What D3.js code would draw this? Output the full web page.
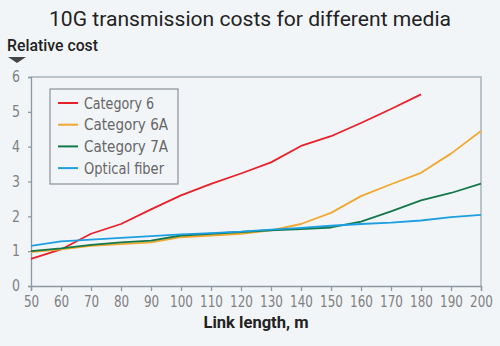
<!DOCTYPE html>
<html>
<head>
<meta charset="utf-8">
<script src="https://cdn.jsdelivr.net/npm/d3@7"></script>
<style>
  body { margin: 0; background: #f2f5f8; }
  svg { display: block; }
</style>
</head>
<body>
<div id="chart"></div>
<script>
const lengths = [50, 60, 70, 80, 90, 100, 110, 120, 130, 140, 150, 160, 170, 180, 190, 200]
const cat6 = [0.78, 1.05, 1.5, 1.78, 2.2, 2.6, 2.93, 3.23, 3.55, 4.02, 4.3, 4.68, 5.08, 5.5]
const cat6a = [0.97, 1.05, 1.15, 1.2, 1.25, 1.4, 1.45, 1.5, 1.6, 1.78, 2.1, 2.58, 2.92, 3.25, 3.8, 4.45]
const cat7a = [1.0, 1.08, 1.18, 1.25, 1.3, 1.45, 1.5, 1.55, 1.6, 1.63, 1.68, 1.85, 2.14, 2.46, 2.67, 2.94]
const fiber = [1.15, 1.28, 1.33, 1.38, 1.43, 1.48, 1.52, 1.56, 1.62, 1.67, 1.73, 1.78, 1.82, 1.88, 1.98, 2.04]
const seriesNames = ["Category 6", "Category 6A", "Category 7A", "Optical fiber"]
const seriesColors = ["#e8202a", "#f0a830", "#12784a", "#1c9fe0"]
const yTicks = [0, 1, 2, 3, 4, 5, 6]

const W = 500, H = 346
const plotLeft = 31, plotRight = 481, plotTop = 77, plotBottom = 286

const svg = d3.select("#chart").append("svg")
    .attr("width", W)
    .attr("height", H)

svg.append("rect").attr("width", W).attr("height", H).attr("fill", "#f2f5f8")

const x = d3.scaleLinear().domain([50, 200]).range([plotLeft, plotRight])
const y = d3.scaleLinear().domain([0, 6]).range([plotBottom, plotTop])

// title + y label
svg.append("text")
    .attr("x", 250).attr("y", 26)
    .attr("text-anchor", "middle")
    .attr("font-family", "Roboto, sans-serif")
    .attr("font-size", 21)
    .attr("fill", "#222")
    .attr("textLength", 402)
    .attr("lengthAdjust", "spacingAndGlyphs")
    .text("10G transmission costs for different media")

svg.append("text")
    .attr("x", 7).attr("y", 51)
    .attr("font-family", "Roboto, sans-serif")
    .attr("font-weight", 500)
    .attr("font-size", 16)
    .attr("fill", "#222")
    .attr("textLength", 91)
    .attr("lengthAdjust", "spacingAndGlyphs")
    .text("Relative cost")

svg.append("path")
    .attr("d", "M8,57 L26,57 L17,63 Z")
    .attr("fill", "#444")

// frame (top and right)
svg.append("path")
    .attr("d", `M${plotLeft},${plotTop} H${plotRight} V${plotBottom}`)
    .attr("fill", "none")
    .attr("stroke", "#a9b3bb")
    .attr("stroke-width", 1.5)

const tickFont = "'Liberation Sans Narrow', 'DejaVu Sans Condensed', sans-serif"

const yAxis = svg.append("g")
    .attr("transform", `translate(${plotLeft},0)`)
    .call(d3.axisLeft(y).tickValues(yTicks).tickFormat(d3.format("d")).tickSize(3).tickPadding(8))
yAxis.selectAll("text")
    .attr("font-family", tickFont)
    .attr("font-size", 15)
    .attr("fill", "#808080")
    .attr("textLength", 8)
    .attr("lengthAdjust", "spacingAndGlyphs")

const xAxis = svg.append("g")
    .attr("transform", `translate(0,${plotBottom})`)
    .call(d3.axisBottom(x).tickValues(lengths).tickSize(5).tickPadding(5))
xAxis.selectAll("text")
    .attr("font-family", tickFont)
    .attr("font-size", 16)
    .attr("fill", "#808080")
    .attr("textLength", d => String(d).length * 7.6)
    .attr("lengthAdjust", "spacingAndGlyphs")

svg.selectAll(".domain, .tick line").attr("stroke", "#8a99a4").attr("stroke-width", 1.3)

svg.append("text")
    .attr("x", 256).attr("y", 328)
    .attr("text-anchor", "middle")
    .attr("font-family", "Roboto, sans-serif")
    .attr("font-weight", 700)
    .attr("font-size", 16)
    .attr("fill", "#222")
    .attr("textLength", 105)
    .attr("lengthAdjust", "spacingAndGlyphs")
    .text("Link length, m")

// lines
const allSeries = [cat6, cat6a, cat7a, fiber]
const line = d3.line()
    .x((d, i) => x(lengths[i]))
    .y(d => y(d))

allSeries.forEach((s, k) => {
    svg.append("path")
        .datum(s)
        .attr("fill", "none")
        .attr("stroke", seriesColors[k])
        .attr("stroke-width", 1.8)
        .attr("stroke-linejoin", "round")
        .attr("d", line)
})

// legend
const lg = svg.append("g").attr("transform", "translate(50,89)")
lg.append("rect")
    .attr("width", 128).attr("height", 95)
    .attr("fill", "#f2f5f8")
    .attr("stroke", "#8a9299")
    .attr("stroke-width", 1.2)

const legendWidths = [70, 84, 84, 80]
seriesNames.forEach((name, k) => {
    const yy = 14 + k * 21.7
    lg.append("line")
        .attr("x1", 8).attr("x2", 28)
        .attr("y1", yy).attr("y2", yy)
        .attr("stroke", seriesColors[k])
        .attr("stroke-width", 2)
    lg.append("text")
        .attr("x", 34).attr("y", yy + 5.5)
        .attr("font-family", tickFont)
        .attr("font-size", 16)
        .attr("fill", "#666")
        .attr("textLength", legendWidths[k])
        .attr("lengthAdjust", "spacingAndGlyphs")
        .text(name)
})
</script>
</body>
</html>
